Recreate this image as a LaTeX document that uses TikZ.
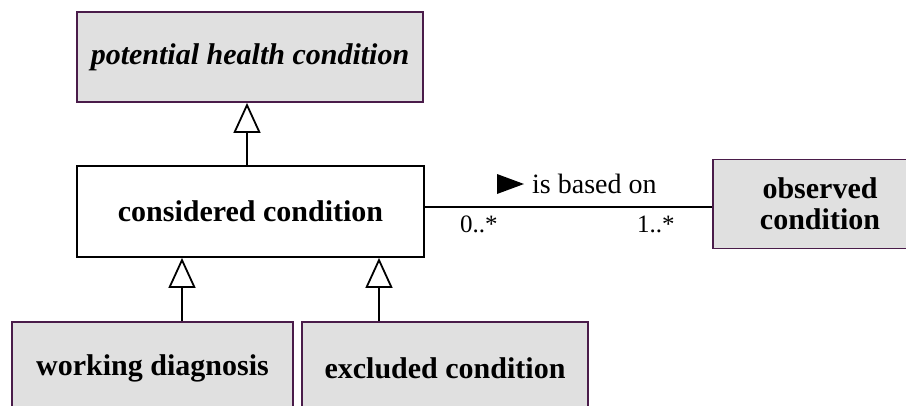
\documentclass[tikz,border=0pt]{standalone}
\usepackage{fontspec}
\setmainfont{Liberation Serif}
\usetikzlibrary{arrows.meta}
\definecolor{classfill}{HTML}{E0E0E0}
\definecolor{classedge}{HTML}{4A1C4A}
\tikzset{
  cls/.style={draw=classedge, fill=classfill, line width=1.8pt, inner sep=0pt,
    font=\fontsize{30}{31}\selectfont\bfseries, align=center},
  plain/.style={draw=black, fill=white, line width=1.8pt, inner sep=0pt,
    font=\fontsize{30}{31}\selectfont\bfseries},
  gen/.style={line width=1.8pt, -{Triangle[open, length=30pt, width=27pt, line width=1.8pt]}},
  assoc/.style={line width=1.8pt},
  lbl/.style={font=\fontsize{28}{30}\selectfont, inner sep=0pt},
  mult/.style={font=\fontsize{25}{27}\selectfont, inner sep=0pt}
}
\begin{document}
\begin{tikzpicture}[x=1pt, y=-1pt]
\useasboundingbox (0,0) rectangle (906,405);
\clip (0,0) rectangle (906,405);
% classes
\node[cls, minimum width=346pt, minimum height=90pt, font=\fontsize{30}{31}\selectfont\bfseries\itshape] (phc) at (250,57) {potential health condition};
\node[plain, minimum width=347pt, minimum height=91pt] (cc) at (250.5,211.5) {considered condition};
\node[cls, minimum width=214pt, minimum height=89pt] (oc) at (820,204) {observed\\condition};
\node[cls, minimum width=281pt, minimum height=92pt] (wd) at (152.5,368) {working diagnosis};
\node[cls, minimum width=286pt, minimum height=92pt] (ec) at (445,368) {excluded condition};
% generalisations
\coordinate (g0) at (247,0);
\coordinate (g1) at (182,0);
\coordinate (g2) at (379,0);
\draw[gen] (g0 |- cc.north) -- (g0 |- phc.south);
\draw[gen] (g1 |- wd.north) -- (g1 |- cc.south);
\draw[gen] (g2 |- ec.north) -- (g2 |- cc.south);
% association
\draw[assoc] (cc.east |- 0,207) -- (oc.west |- 0,207);
\node[lbl, anchor=base west] (rl) at (532,193) {is based on};
\fill (497,174) -- (524,184) -- (497,194) -- cycle;
\node[mult, anchor=base west] (m0) at (460,232) {0..*};
\node[mult, anchor=base west] (m1) at (637,232) {1..*};
\end{tikzpicture}
\end{document}
